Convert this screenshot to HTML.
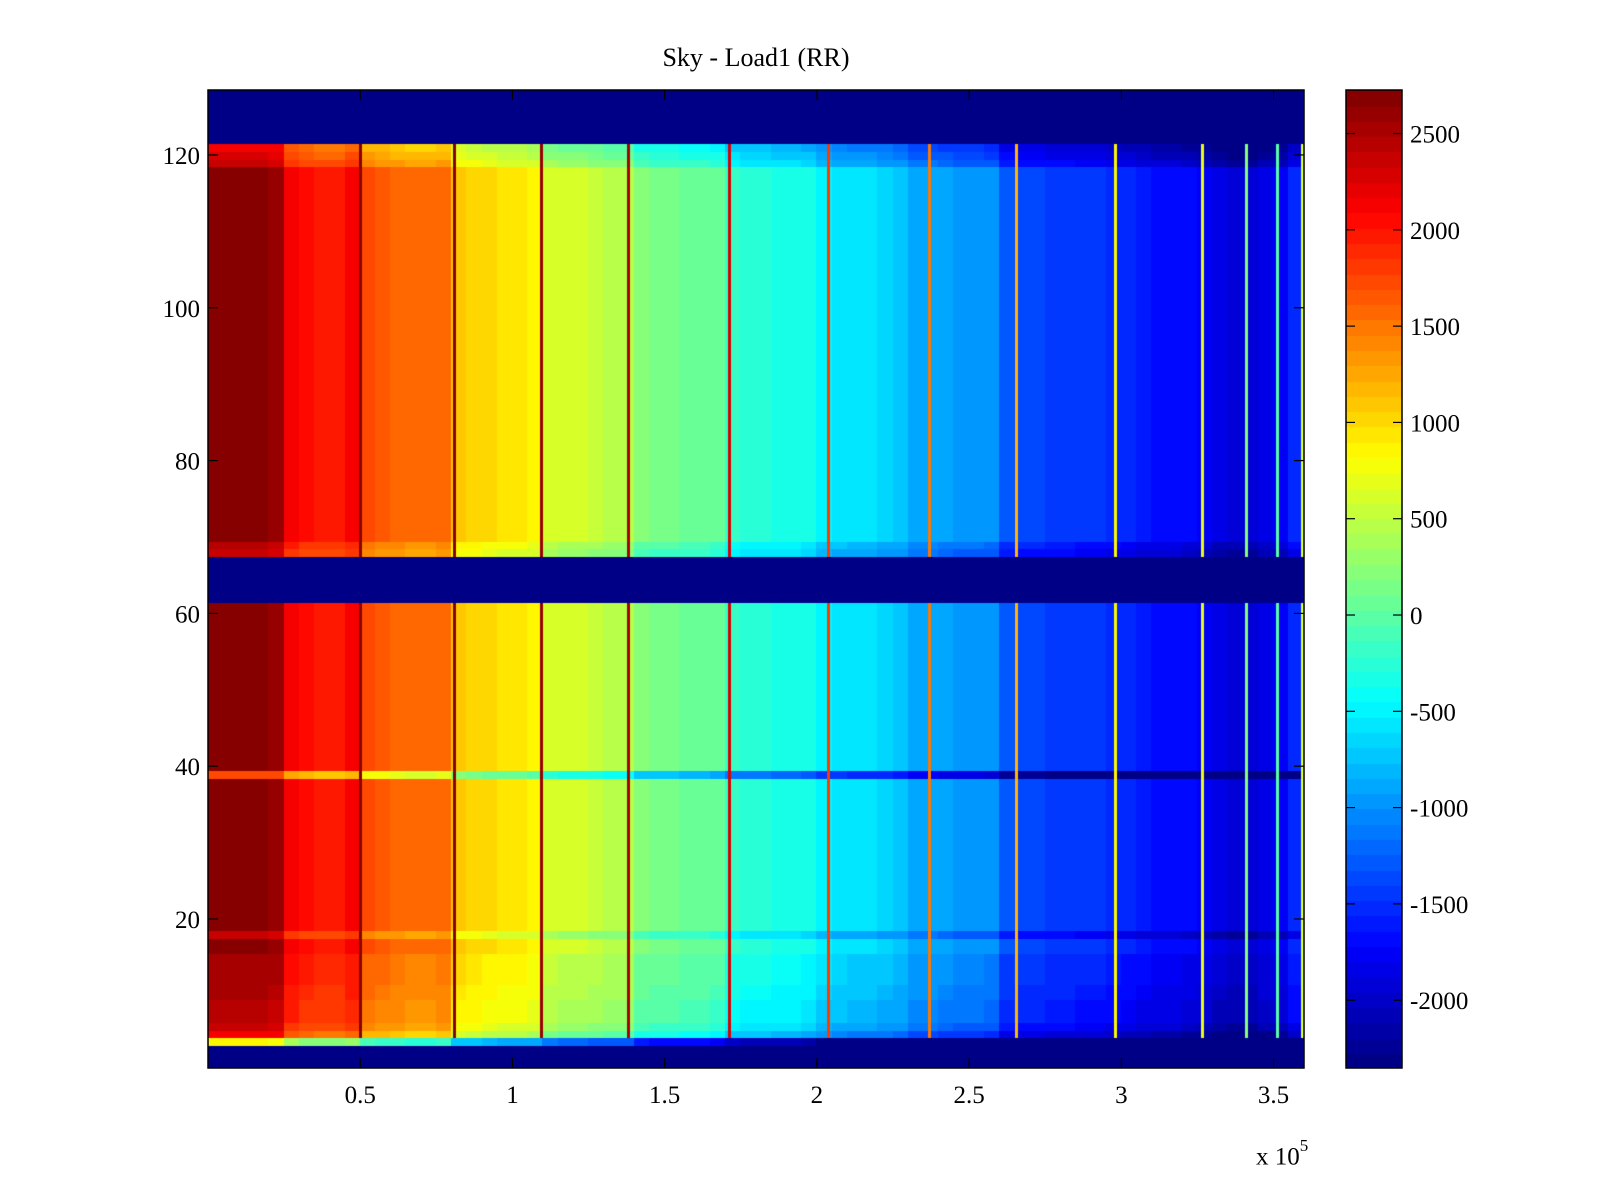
<!DOCTYPE html>
<html><head><meta charset="utf-8"><style>
html,body{margin:0;padding:0;background:#fff;}
#wrap{position:relative;width:1600px;height:1200px;font-family:"Liberation Serif",serif;color:#000;}
canvas{position:absolute;}
.t{position:absolute;font-size:24px;line-height:24px;white-space:nowrap;}
</style></head><body>
<div id="wrap">
<div class="t" style="left:556px;top:46px;width:400px;text-align:center;font-size:26px;">Sky - Load1 (RR)</div>
<canvas id="hm" width="1096" height="978" style="left:208px;top:90px;"></canvas>
<canvas id="cb" width="56" height="978" style="left:1346px;top:90px;"></canvas>
<svg id="ax" width="1600" height="1200" style="position:absolute;left:0;top:0;"></svg>
<div class="t" style="left:1256px;top:1138px;font-size:25px;">x 10<sup style="font-size:17px;position:relative;top:-4px;">5</sup></div>
</div>
<script>
// data
const colStep = 5000; // x bin width (data units)
const colProfile = [2650,2650,2650,2650,2600,2150,2050,2000,2000,2100,1700,1650,1600,1550,1550,1600,1100,1050,1000,950,950,900,650,600,600,550,500,500,200,150,150,100,100,50,-200,-250,-250,-300,-300,-350,-500,-550,-600,-600,-650,-700,-850,-850,-900,-950,-950,-1000,-1300,-1350,-1350,-1400,-1400,-1450,-1450,-1500,-1550,-1600,-1650,-1650,-1700,-1750,-1850,-1900,-1900,-1800,-1750,-1500];
const maskedRows = [1,2,3,62,63,64,65,66,67,122,123,124,125,126,127,128];
const rowOffsetRows = [4,5,6,7,8,9,10,11,12,13,14,15,18,39,68,69,119,120,121];
const rowOffsetVals = [-1800,-500,-300,-200,-200,-200,-150,-150,-100,-100,-100,-100,-300,-900,-300,-200,-300,-400,-500];
const stripeX = [0.5,0.808,1.093,1.381,1.71,2.035,2.367,2.655,2.98,3.265,3.41,3.51,3.595];
const stripeVal = [2700,2700,2600,2500,2300,1800,1500,1200,900,700,200,0,600];
const yTicks = [20,40,60,80,100,120];
const xTicks = [0.5,1,1.5,2,2.5,3,3.5];
const cTicks = [2500,2000,1500,1000,500,0,-500,-1000,-1500,-2000];
const cMin = -2352, cMax = 2726, nRows = 128, xMax = 3.6e5;

// axes
const PL=208,PT=90,PR=1304,PB=1068;
const xs = v => PL + v/xMax*(PR-PL);
const ys = r => PB - (r-0.5)/nRows*(PB-PT);
const cs = v => PB - (v-cMin)/(cMax-cMin)*(PB-PT);
function jet(v){
  let t=(v-cMin)/(cMax-cMin); t=Math.max(0,Math.min(1,t));
  t=(Math.floor(t*64)+0.5)/64;
  const f=x=>Math.round(255*Math.max(0,Math.min(1,1.5-Math.abs(4*t-x))));
  return `rgb(${f(3)},${f(2)},${f(1)})`;
}
const hm=document.getElementById('hm').getContext('2d');
for(let r=1;r<=nRows;r++){
  const y0=ys(r+0.5)-PT, y1=ys(r-0.5)-PT;
  const oi=rowOffsetRows.indexOf(r), off=oi>=0?rowOffsetVals[oi]:0;
  for(let c=0;c<colProfile.length;c++){
    const x0=xs(c*colStep)-PL, x1=xs((c+1)*colStep)-PL;
    let v = maskedRows.includes(r)?cMin:colProfile[c]+off;
    hm.fillStyle=jet(v); hm.fillRect(Math.floor(x0),Math.floor(y0),Math.ceil(x1-x0)+1,Math.ceil(y1-y0)+1);
  }
  if(!maskedRows.includes(r) && r>4){
    for(let s=0;s<stripeX.length;s++){
      hm.fillStyle=jet(stripeVal[s]);
      hm.fillRect(Math.round(xs(stripeX[s]*1e5)-PL)-1,Math.floor(y0),3,Math.ceil(y1-y0)+1);
    }
  }
}
const cb=document.getElementById('cb').getContext('2d');
for(let i=0;i<64;i++){
  const v0=cMin+(cMax-cMin)*i/64, v1=cMin+(cMax-cMin)*(i+1)/64;
  cb.fillStyle=jet((v0+v1)/2);
  cb.fillRect(0,Math.floor(cs(v1)-PT),56,Math.ceil(cs(v0)-cs(v1))+1);
}
const NS='http://www.w3.org/2000/svg', ax=document.getElementById('ax');
function mk(tag,attrs){const e=document.createElementNS(NS,tag);for(const k in attrs)e.setAttribute(k,attrs[k]);ax.appendChild(e);return e;}
let e=mk('rect',{x:PL,y:PT,width:PR-PL,height:PB-PT,fill:'none',stroke:'#000','stroke-width':1.5});


e=mk('rect',{x:1346,y:PT,width:56,height:PB-PT,fill:'none',stroke:'#000','stroke-width':1.5});


yTicks.forEach(v=>{
  const y=ys(v);
  mk('line',{x1:PL,x2:PL+10,y1:y,y2:y,stroke:'#000','stroke-width':1.2});
  mk('line',{x1:PR,x2:PR-10,y1:y,y2:y,stroke:'#000','stroke-width':1.2});
  const t=mk('text',{x:PL-8,y:y+9,'text-anchor':'end','font-size':25,'font-family':'Liberation Serif, serif'});
  t.textContent=v;
  
  
});
xTicks.forEach(v=>{
  const x=xs(v*1e5);
  mk('line',{x1:x,x2:x,y1:PB,y2:PB-10,stroke:'#000','stroke-width':1.2});
  mk('line',{x1:x,x2:x,y1:PT,y2:PT+10,stroke:'#000','stroke-width':1.2});
  const t=mk('text',{x:x,y:PB+35,'text-anchor':'middle','font-size':25,'font-family':'Liberation Serif, serif'});
  t.textContent=v;
  
  
});
cTicks.forEach(v=>{
  const y=cs(v);
  mk('line',{x1:1346,x2:1355,y1:y,y2:y,stroke:'#000','stroke-width':1.2});
  mk('line',{x1:1402,x2:1393,y1:y,y2:y,stroke:'#000','stroke-width':1.2});
  const t=mk('text',{x:1410,y:y+9,'text-anchor':'start','font-size':25,'font-family':'Liberation Serif, serif'});
  t.textContent=v;
  
  
});
</script>
</body></html>
